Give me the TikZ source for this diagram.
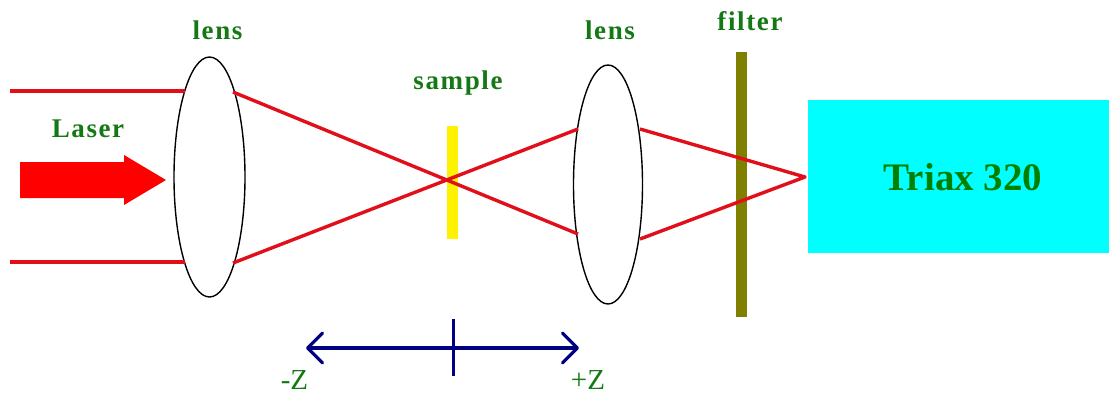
\documentclass[tikz,border=0pt]{standalone}
\usepackage{fontspec}
\setmainfont{Liberation Serif}
\usetikzlibrary{shapes.geometric,arrows.meta}
\definecolor{lbl}{RGB}{20,120,20}
\definecolor{triaxgreen}{RGB}{0,128,0}
\definecolor{navy2}{RGB}{0,0,128}
\definecolor{olive2}{RGB}{128,128,0}
\definecolor{cyanfill}{RGB}{0,255,255}
\definecolor{raycol}{RGB}{225,15,25}
\tikzset{
  lbltext/.style={text=lbl,font=\addfontfeatures{LetterSpace=6}\bfseries\fontsize{27}{30}\selectfont,inner sep=0pt},
  zlabel/.style={text=lbl,font=\fontsize{29}{31}\selectfont,inner sep=0pt},
  lensshape/.style={draw=black,line width=1.4pt,ellipse,fill=none,inner sep=0pt},
  ray/.style={draw=raycol,line width=3.4pt,line join=round},
  beam/.style={draw=raycol,line width=3.2pt},
  plate/.style={draw=none,inner sep=0pt}
}
\begin{document}
\begin{tikzpicture}[x=1pt,y=-1pt]
\useasboundingbox (0,0) rectangle (1109,394);
% plates and box
\node[plate,fill=olive2,minimum width=11pt,minimum height=265pt] (filter) at (741,184.5) {};
\node[plate,fill=yellow,minimum width=11pt,minimum height=113pt] (sample) at (452.5,182.5) {};
\node[plate,fill=cyanfill,minimum width=301pt,minimum height=153pt] (triax) at (958.5,176.5) {};
% lenses
\node[lensshape,minimum width=71pt,minimum height=240pt] (lensa) at (209.5,177) {};
\node[lensshape,minimum width=69pt,minimum height=239pt] (lensb) at (608,184.5) {};
% ray end points
\coordinate (ta) at (10,91);
\coordinate (tb) at (185,91);
\coordinate (ba) at (10,262);
\coordinate (bb) at (185,262);
\coordinate (l1t) at (233,92);
\coordinate (l1b) at (233,263);
\coordinate (l2t) at (578,129);
\coordinate (l2b) at (578,234);
\coordinate (r2t) at (640,129);
\coordinate (r2b) at (640,239);
\coordinate (focus) at (805,177);
\draw[beam] (ta) -- (tb);
\draw[beam] (ba) -- (bb);
\draw[ray] (l1t) -- (l2b);
\draw[ray] (l1b) -- (l2t);
\draw[ray] (r2t) -- (focus) -- (r2b);
% laser arrow
\fill[red] (20,162) -- (124,162) -- (124,155) -- (166,180) -- (124,205) -- (124,198) -- (20,198) -- cycle;
% axis
\coordinate (zm) at (306,348);
\coordinate (zp) at (579,348);
\coordinate (tu) at (453,319);
\coordinate (td) at (453,376);
\draw[navy2,line width=3.2pt,{Straight Barb[length=15pt,width=30pt,round]}-{Straight Barb[length=15pt,width=30pt,round]}] (zm) -- (zp);
\draw[navy2,line width=3pt] (tu) -- (td);
% labels
\node[lbltext] (l1) at (217.5,30) {lens};
\node[lbltext] (l2) at (610,30) {lens};
\node[lbltext] (l3) at (750,21) {filter};
\node[lbltext] (l4) at (458,83) {sample};
\node[lbltext] (l5) at (88,129) {Laser};
\node[text=triaxgreen,font=\bfseries\fontsize{39}{42}\selectfont,inner sep=0pt] (l6) at (963,177) {Triax 320};
\node[zlabel] (z1) at (294.5,379.5) {-Z};
\node[zlabel] (z2) at (588,379.5) {+Z};
\end{tikzpicture}
\end{document}
